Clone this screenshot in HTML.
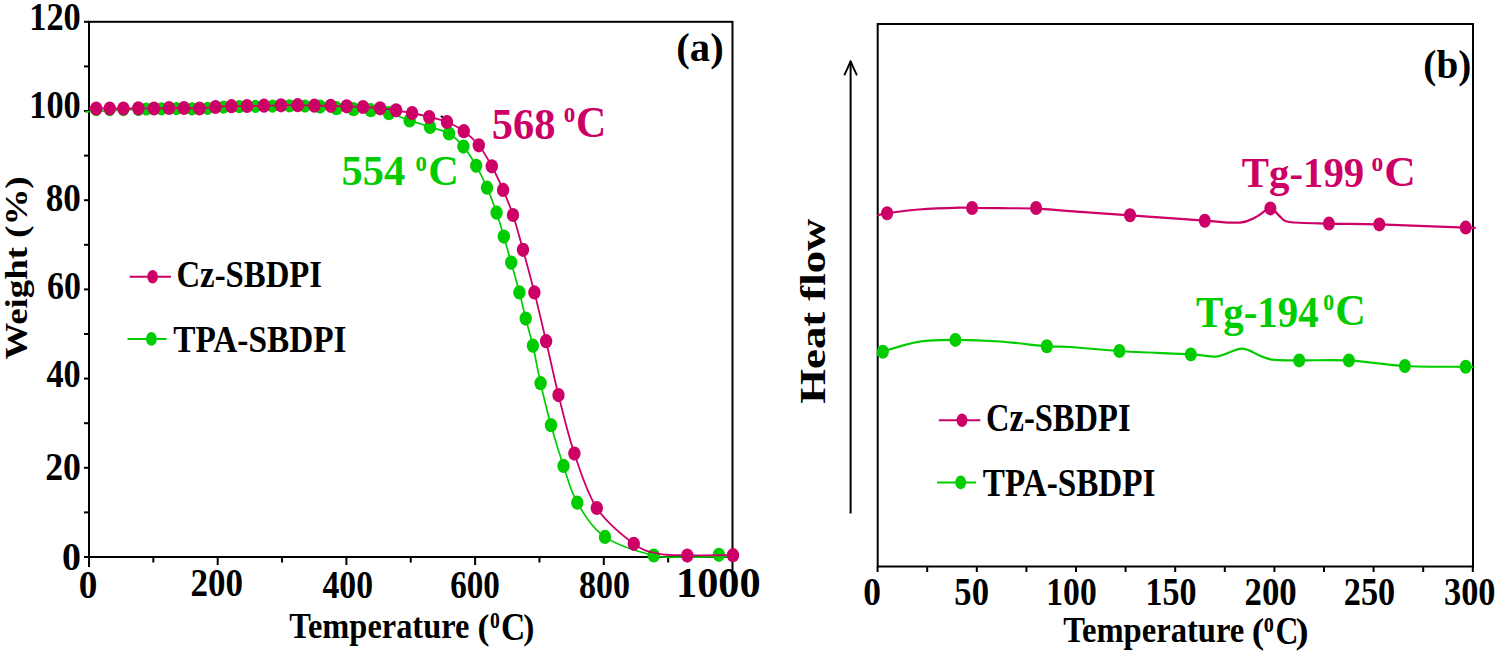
<!DOCTYPE html>
<html><head><meta charset="utf-8"><title>TGA and DSC curves</title>
<style>
html,body{margin:0;padding:0;background:#fff;width:1499px;height:656px;overflow:hidden}
svg{display:block}
text{font-family:"Liberation Serif",serif;font-weight:bold;font-size:100px}
</style></head><body>
<svg width="1499" height="656" viewBox="0 0 1499 656">
<rect width="1499" height="656" fill="#fff"/>
<rect x="89" y="21.8" width="643.5" height="535.2" fill="none" stroke="#000" stroke-width="2"/>
<line x1="84" y1="557.0" x2="89" y2="557.0" stroke="#000" stroke-width="2" stroke-linecap="butt"/>
<line x1="84" y1="512.4" x2="89" y2="512.4" stroke="#000" stroke-width="2" stroke-linecap="butt"/>
<line x1="84" y1="467.8" x2="89" y2="467.8" stroke="#000" stroke-width="2" stroke-linecap="butt"/>
<line x1="84" y1="423.2" x2="89" y2="423.2" stroke="#000" stroke-width="2" stroke-linecap="butt"/>
<line x1="84" y1="378.6" x2="89" y2="378.6" stroke="#000" stroke-width="2" stroke-linecap="butt"/>
<line x1="84" y1="334.0" x2="89" y2="334.0" stroke="#000" stroke-width="2" stroke-linecap="butt"/>
<line x1="84" y1="289.4" x2="89" y2="289.4" stroke="#000" stroke-width="2" stroke-linecap="butt"/>
<line x1="84" y1="244.8" x2="89" y2="244.8" stroke="#000" stroke-width="2" stroke-linecap="butt"/>
<line x1="84" y1="200.2" x2="89" y2="200.2" stroke="#000" stroke-width="2" stroke-linecap="butt"/>
<line x1="84" y1="155.59999999999997" x2="89" y2="155.59999999999997" stroke="#000" stroke-width="2" stroke-linecap="butt"/>
<line x1="84" y1="110.99999999999994" x2="89" y2="110.99999999999994" stroke="#000" stroke-width="2" stroke-linecap="butt"/>
<line x1="84" y1="66.39999999999992" x2="89" y2="66.39999999999992" stroke="#000" stroke-width="2" stroke-linecap="butt"/>
<line x1="84" y1="21.799999999999955" x2="89" y2="21.799999999999955" stroke="#000" stroke-width="2" stroke-linecap="butt"/>
<line x1="89.0" y1="557" x2="89.0" y2="567" stroke="#000" stroke-width="2" stroke-linecap="butt"/>
<line x1="153.35" y1="557" x2="153.35" y2="562.5" stroke="#000" stroke-width="2" stroke-linecap="butt"/>
<line x1="217.7" y1="557" x2="217.7" y2="565" stroke="#000" stroke-width="2" stroke-linecap="butt"/>
<line x1="282.05" y1="557" x2="282.05" y2="562.5" stroke="#000" stroke-width="2" stroke-linecap="butt"/>
<line x1="346.4" y1="557" x2="346.4" y2="565" stroke="#000" stroke-width="2" stroke-linecap="butt"/>
<line x1="410.75" y1="557" x2="410.75" y2="562.5" stroke="#000" stroke-width="2" stroke-linecap="butt"/>
<line x1="475.1" y1="557" x2="475.1" y2="565" stroke="#000" stroke-width="2" stroke-linecap="butt"/>
<line x1="539.45" y1="557" x2="539.45" y2="562.5" stroke="#000" stroke-width="2" stroke-linecap="butt"/>
<line x1="603.8" y1="557" x2="603.8" y2="565" stroke="#000" stroke-width="2" stroke-linecap="butt"/>
<line x1="668.15" y1="557" x2="668.15" y2="562.5" stroke="#000" stroke-width="2" stroke-linecap="butt"/>
<line x1="732.5" y1="557" x2="732.5" y2="570" stroke="#000" stroke-width="2" stroke-linecap="butt"/>
<path d="M85.00,111.80 C95.20,111.33 133.45,109.49 146.20,109.00 C158.95,108.51 156.45,108.92 161.50,108.85 C166.55,108.78 171.42,108.60 176.50,108.60 C181.58,108.60 186.83,108.90 192.00,108.86 C197.17,108.82 202.25,108.63 207.50,108.35 C212.75,108.07 218.20,107.48 223.50,107.20 C228.80,106.92 233.97,106.82 239.30,106.70 C244.63,106.57 249.97,106.55 255.50,106.45 C261.03,106.35 266.85,106.20 272.50,106.10 C278.15,106.00 283.98,105.86 289.40,105.85 C294.82,105.84 299.90,105.89 305.00,106.02 C310.10,106.14 314.75,106.24 320.00,106.60 C325.25,106.96 330.92,107.77 336.50,108.20 C342.08,108.63 347.80,108.87 353.50,109.20 C359.20,109.53 364.78,109.53 370.70,110.20 C376.62,110.87 382.52,111.50 389.00,113.20 C395.48,114.90 402.77,118.10 409.60,120.40 C416.43,122.70 423.43,124.82 430.00,127.00 C436.57,129.18 443.43,130.23 449.00,133.50 C454.57,136.77 458.87,141.22 463.40,146.60 C467.93,151.98 472.27,158.95 476.20,165.80 C480.13,172.65 483.60,179.88 487.00,187.70 C490.40,195.52 493.80,204.55 496.60,212.70 C499.40,220.85 501.37,228.28 503.80,236.60 C506.23,244.92 508.60,253.30 511.20,262.60 C513.80,271.90 516.98,283.07 519.40,292.40 C521.82,301.73 523.45,309.72 525.70,318.60 C527.95,327.48 530.42,334.93 532.90,345.70 C535.38,356.47 537.58,369.95 540.60,383.20 C543.62,396.45 547.18,411.42 551.00,425.20 C554.82,438.98 559.12,452.98 563.50,465.90 C567.88,478.82 570.38,490.87 577.30,502.70 C584.22,514.53 592.27,528.10 605.00,536.90 C617.73,545.70 640.20,552.15 653.70,555.50 C667.20,558.85 675.13,556.82 686.00,557.00 C696.87,557.18 711.07,556.60 718.90,556.60 C726.73,556.60 730.65,556.93 733.00,557.00" fill="none" stroke="#00cc00" stroke-width="1.7" stroke-linejoin="round"/>
<ellipse cx="96.2" cy="109.7" rx="5.6" ry="6.6" fill="#00cc00"/>
<ellipse cx="109.7" cy="109.7" rx="5.6" ry="6.6" fill="#00cc00"/>
<ellipse cx="123.4" cy="109.7" rx="5.6" ry="6.6" fill="#00cc00"/>
<ellipse cx="138.3" cy="109.5" rx="5.6" ry="6.6" fill="#00cc00"/>
<ellipse cx="146.2" cy="109.0" rx="5.6" ry="6.6" fill="#00cc00"/>
<ellipse cx="161.5" cy="108.8" rx="5.6" ry="6.6" fill="#00cc00"/>
<ellipse cx="176.5" cy="108.6" rx="5.6" ry="6.6" fill="#00cc00"/>
<ellipse cx="192.0" cy="108.9" rx="5.6" ry="6.6" fill="#00cc00"/>
<ellipse cx="207.5" cy="108.3" rx="5.6" ry="6.6" fill="#00cc00"/>
<ellipse cx="223.5" cy="107.2" rx="5.6" ry="6.6" fill="#00cc00"/>
<ellipse cx="239.3" cy="106.7" rx="5.6" ry="6.6" fill="#00cc00"/>
<ellipse cx="255.5" cy="106.4" rx="5.6" ry="6.6" fill="#00cc00"/>
<ellipse cx="272.5" cy="106.1" rx="5.6" ry="6.6" fill="#00cc00"/>
<ellipse cx="289.4" cy="105.8" rx="5.6" ry="6.6" fill="#00cc00"/>
<ellipse cx="305.0" cy="106.0" rx="5.6" ry="6.6" fill="#00cc00"/>
<ellipse cx="320.0" cy="106.6" rx="6.2" ry="7.1" fill="#00cc00"/>
<ellipse cx="336.5" cy="108.2" rx="6.2" ry="7.1" fill="#00cc00"/>
<ellipse cx="353.5" cy="109.2" rx="6.2" ry="7.1" fill="#00cc00"/>
<ellipse cx="370.7" cy="110.2" rx="6.2" ry="7.1" fill="#00cc00"/>
<ellipse cx="389.0" cy="113.2" rx="6.2" ry="7.1" fill="#00cc00"/>
<ellipse cx="409.6" cy="120.4" rx="6.2" ry="7.1" fill="#00cc00"/>
<ellipse cx="430.0" cy="127.0" rx="6.2" ry="7.1" fill="#00cc00"/>
<ellipse cx="449.0" cy="133.5" rx="6.2" ry="7.1" fill="#00cc00"/>
<ellipse cx="463.4" cy="146.6" rx="6.2" ry="7.1" fill="#00cc00"/>
<ellipse cx="476.2" cy="165.8" rx="6.2" ry="7.1" fill="#00cc00"/>
<ellipse cx="487.0" cy="187.7" rx="6.2" ry="7.1" fill="#00cc00"/>
<ellipse cx="496.6" cy="212.7" rx="6.2" ry="7.1" fill="#00cc00"/>
<ellipse cx="503.8" cy="236.6" rx="6.2" ry="7.1" fill="#00cc00"/>
<ellipse cx="511.2" cy="262.6" rx="6.2" ry="7.1" fill="#00cc00"/>
<ellipse cx="519.4" cy="292.4" rx="6.2" ry="7.1" fill="#00cc00"/>
<ellipse cx="525.7" cy="318.6" rx="6.2" ry="7.1" fill="#00cc00"/>
<ellipse cx="532.9" cy="345.7" rx="6.2" ry="7.1" fill="#00cc00"/>
<ellipse cx="540.6" cy="383.2" rx="6.2" ry="7.1" fill="#00cc00"/>
<ellipse cx="551.0" cy="425.2" rx="6.2" ry="7.1" fill="#00cc00"/>
<ellipse cx="563.5" cy="465.9" rx="6.2" ry="7.1" fill="#00cc00"/>
<ellipse cx="577.3" cy="502.7" rx="6.2" ry="7.1" fill="#00cc00"/>
<ellipse cx="605.0" cy="536.9" rx="6.2" ry="7.1" fill="#00cc00"/>
<ellipse cx="653.7" cy="555.5" rx="6.2" ry="7.1" fill="#00cc00"/>
<ellipse cx="718.9" cy="554.8" rx="6.2" ry="7.1" fill="#00cc00"/>
<path d="M89.00,108.50 C90.20,108.50 92.75,108.50 96.20,108.50 C99.65,108.50 105.17,108.50 109.70,108.50 C114.23,108.50 118.63,108.53 123.40,108.50 C128.17,108.47 133.20,108.30 138.30,108.30 C143.40,108.30 148.88,108.55 154.00,108.50 C159.12,108.45 164.00,108.08 169.00,108.00 C174.00,107.92 178.92,107.92 184.00,108.00 C189.08,108.08 194.25,108.67 199.50,108.50 C204.75,108.33 210.17,107.38 215.50,107.00 C220.83,106.62 226.25,106.37 231.50,106.20 C236.75,106.03 241.58,106.08 247.00,106.00 C252.42,105.92 258.33,105.82 264.00,105.70 C269.67,105.58 275.38,105.38 281.00,105.30 C286.62,105.22 292.13,105.13 297.70,105.20 C303.27,105.27 308.90,105.60 314.40,105.70 C319.90,105.80 325.32,105.70 330.70,105.80 C336.08,105.90 341.32,106.10 346.70,106.30 C352.08,106.50 357.43,106.67 363.00,107.00 C368.57,107.33 374.58,107.75 380.10,108.30 C385.62,108.85 390.77,109.52 396.10,110.30 C401.43,111.08 406.58,111.88 412.10,113.00 C417.62,114.12 423.38,115.50 429.20,117.00 C435.02,118.50 441.23,119.63 447.00,122.00 C452.77,124.37 458.50,127.32 463.80,131.20 C469.10,135.08 474.13,139.45 478.80,145.30 C483.47,151.15 487.75,158.87 491.80,166.30 C495.85,173.73 499.57,181.78 503.10,189.90 C506.63,198.02 509.68,205.02 513.00,215.00 C516.32,224.98 519.43,236.90 523.00,249.80 C526.57,262.70 530.55,277.17 534.40,292.40 C538.25,307.63 542.08,324.08 546.10,341.20 C550.12,358.32 553.78,376.37 558.50,395.10 C563.22,413.83 568.02,434.78 574.40,453.60 C580.78,472.42 586.90,492.97 596.80,508.00 C606.70,523.03 623.60,536.20 633.80,543.80 C644.00,551.40 649.08,551.68 658.00,553.60 C666.92,555.52 674.80,555.03 687.30,555.30 C699.80,555.57 725.38,555.22 733.00,555.20" fill="none" stroke="#cc0066" stroke-width="1.8" stroke-linejoin="round"/>
<ellipse cx="96.2" cy="108.5" rx="6.2" ry="7.1" fill="#cc0066"/>
<ellipse cx="109.7" cy="108.5" rx="6.2" ry="7.1" fill="#cc0066"/>
<ellipse cx="123.4" cy="108.5" rx="6.2" ry="7.1" fill="#cc0066"/>
<ellipse cx="138.3" cy="108.3" rx="6.2" ry="7.1" fill="#cc0066"/>
<ellipse cx="154.0" cy="108.5" rx="6.2" ry="7.1" fill="#cc0066"/>
<ellipse cx="169.0" cy="108.0" rx="6.2" ry="7.1" fill="#cc0066"/>
<ellipse cx="184.0" cy="108.0" rx="6.2" ry="7.1" fill="#cc0066"/>
<ellipse cx="199.5" cy="108.5" rx="6.2" ry="7.1" fill="#cc0066"/>
<ellipse cx="215.5" cy="107.0" rx="6.2" ry="7.1" fill="#cc0066"/>
<ellipse cx="231.5" cy="106.2" rx="6.2" ry="7.1" fill="#cc0066"/>
<ellipse cx="247.0" cy="106.0" rx="6.2" ry="7.1" fill="#cc0066"/>
<ellipse cx="264.0" cy="105.7" rx="6.2" ry="7.1" fill="#cc0066"/>
<ellipse cx="281.0" cy="105.3" rx="6.2" ry="7.1" fill="#cc0066"/>
<ellipse cx="297.7" cy="105.2" rx="6.2" ry="7.1" fill="#cc0066"/>
<ellipse cx="314.4" cy="105.7" rx="6.2" ry="7.1" fill="#cc0066"/>
<ellipse cx="330.7" cy="105.8" rx="6.2" ry="7.1" fill="#cc0066"/>
<ellipse cx="346.7" cy="106.3" rx="6.2" ry="7.1" fill="#cc0066"/>
<ellipse cx="363.0" cy="107.0" rx="6.2" ry="7.1" fill="#cc0066"/>
<ellipse cx="380.1" cy="108.3" rx="6.2" ry="7.1" fill="#cc0066"/>
<ellipse cx="396.1" cy="110.3" rx="6.2" ry="7.1" fill="#cc0066"/>
<ellipse cx="412.1" cy="113.0" rx="6.2" ry="7.1" fill="#cc0066"/>
<ellipse cx="429.2" cy="117.0" rx="6.2" ry="7.1" fill="#cc0066"/>
<ellipse cx="447.0" cy="122.0" rx="6.2" ry="7.1" fill="#cc0066"/>
<ellipse cx="463.8" cy="131.2" rx="6.2" ry="7.1" fill="#cc0066"/>
<ellipse cx="478.8" cy="145.3" rx="6.2" ry="7.1" fill="#cc0066"/>
<ellipse cx="491.8" cy="166.3" rx="6.2" ry="7.1" fill="#cc0066"/>
<ellipse cx="503.1" cy="189.9" rx="6.2" ry="7.1" fill="#cc0066"/>
<ellipse cx="513.0" cy="215.0" rx="6.2" ry="7.1" fill="#cc0066"/>
<ellipse cx="523.0" cy="249.8" rx="6.2" ry="7.1" fill="#cc0066"/>
<ellipse cx="534.4" cy="292.4" rx="6.2" ry="7.1" fill="#cc0066"/>
<ellipse cx="546.1" cy="341.2" rx="6.2" ry="7.1" fill="#cc0066"/>
<ellipse cx="558.5" cy="395.1" rx="6.2" ry="7.1" fill="#cc0066"/>
<ellipse cx="574.4" cy="453.6" rx="6.2" ry="7.1" fill="#cc0066"/>
<ellipse cx="596.8" cy="508.0" rx="6.2" ry="7.1" fill="#cc0066"/>
<ellipse cx="633.8" cy="543.8" rx="6.2" ry="7.1" fill="#cc0066"/>
<ellipse cx="687.3" cy="555.6" rx="6.2" ry="7.1" fill="#cc0066"/>
<ellipse cx="733.0" cy="555.2" rx="6.2" ry="7.1" fill="#cc0066"/>
<circle cx="441.8" cy="116.6" r="1.2" fill="#000"/>
<line x1="129.7" y1="276.7" x2="171" y2="276.7" stroke="#cc0066" stroke-width="2" stroke-linecap="butt"/>
<ellipse cx="152.6" cy="276.7" rx="5.4" ry="6.8" fill="#cc0066"/>
<line x1="127.5" y1="338.9" x2="166.6" y2="338.9" stroke="#00cc00" stroke-width="2" stroke-linecap="butt"/>
<ellipse cx="151.4" cy="338.9" rx="5.4" ry="6.8" fill="#00cc00"/>
<rect x="877.7" y="24" width="595.3" height="542.5" fill="none" stroke="#000" stroke-width="2"/>
<line x1="877.6" y1="566.5" x2="877.6" y2="572.0" stroke="#000" stroke-width="2" stroke-linecap="butt"/>
<line x1="927.2" y1="566.5" x2="927.2" y2="572.0" stroke="#000" stroke-width="2" stroke-linecap="butt"/>
<line x1="976.8" y1="566.5" x2="976.8" y2="572.0" stroke="#000" stroke-width="2" stroke-linecap="butt"/>
<line x1="1026.4" y1="566.5" x2="1026.4" y2="572.0" stroke="#000" stroke-width="2" stroke-linecap="butt"/>
<line x1="1076.0" y1="566.5" x2="1076.0" y2="572.0" stroke="#000" stroke-width="2" stroke-linecap="butt"/>
<line x1="1125.6" y1="566.5" x2="1125.6" y2="572.0" stroke="#000" stroke-width="2" stroke-linecap="butt"/>
<line x1="1175.2" y1="566.5" x2="1175.2" y2="572.0" stroke="#000" stroke-width="2" stroke-linecap="butt"/>
<line x1="1224.8" y1="566.5" x2="1224.8" y2="572.0" stroke="#000" stroke-width="2" stroke-linecap="butt"/>
<line x1="1274.4" y1="566.5" x2="1274.4" y2="572.0" stroke="#000" stroke-width="2" stroke-linecap="butt"/>
<line x1="1324.0" y1="566.5" x2="1324.0" y2="572.0" stroke="#000" stroke-width="2" stroke-linecap="butt"/>
<line x1="1373.6" y1="566.5" x2="1373.6" y2="572.0" stroke="#000" stroke-width="2" stroke-linecap="butt"/>
<line x1="1423.1999999999998" y1="566.5" x2="1423.1999999999998" y2="572.0" stroke="#000" stroke-width="2" stroke-linecap="butt"/>
<line x1="1472.8" y1="566.5" x2="1472.8" y2="572.0" stroke="#000" stroke-width="2" stroke-linecap="butt"/>
<path d="M877.30,215.30 C878.93,214.97 880.15,214.27 887.10,213.30 C894.05,212.33 906.85,210.45 919.00,209.50 C931.15,208.55 951.15,207.85 960.00,207.60 C968.85,207.35 965.43,207.90 972.10,208.00 C978.77,208.10 989.33,208.10 1000.00,208.20 C1010.67,208.30 1024.43,208.12 1036.10,208.60 C1047.77,209.08 1054.35,209.98 1070.00,211.10 C1085.65,212.22 1107.53,213.70 1130.00,215.30 C1152.47,216.90 1186.47,219.48 1204.80,220.70 C1223.13,221.92 1231.47,223.22 1240.00,222.60 C1248.53,221.98 1250.93,219.37 1256.00,217.00 C1261.07,214.63 1266.40,208.48 1270.40,208.40 C1274.40,208.32 1276.80,214.23 1280.00,216.50 C1283.20,218.77 1281.45,220.82 1289.60,222.00 C1297.75,223.18 1313.95,223.20 1328.90,223.60 C1343.85,224.00 1356.50,223.73 1379.30,224.40 C1402.10,225.07 1450.08,227.03 1465.70,227.60 C1481.32,228.17 1471.78,227.77 1473.00,227.80" fill="none" stroke="#cc0066" stroke-width="2.2" stroke-linejoin="round"/>
<path d="M877.00,355.70 C877.98,355.03 875.83,354.03 882.90,351.70 C889.97,349.37 907.32,343.67 919.40,341.70 C931.48,339.73 941.97,339.93 955.40,339.90 C968.83,339.87 984.77,340.43 1000.00,341.50 C1015.23,342.57 1035.13,345.38 1046.80,346.30 C1058.47,347.22 1057.90,346.22 1070.00,347.00 C1082.10,347.78 1099.27,349.77 1119.40,351.00 C1139.53,352.23 1174.47,353.50 1190.80,354.40 C1207.13,355.30 1208.95,357.35 1217.40,356.40 C1225.85,355.45 1234.40,348.82 1241.50,348.70 C1248.60,348.58 1254.92,353.88 1260.00,355.70 C1265.08,357.52 1265.47,358.82 1272.00,359.60 C1278.53,360.38 1286.38,360.27 1299.20,360.40 C1312.02,360.53 1331.28,359.47 1348.90,360.40 C1366.52,361.33 1385.43,364.93 1404.90,366.00 C1424.37,367.07 1454.35,366.63 1465.70,366.80 C1477.05,366.97 1471.78,366.97 1473.00,367.00" fill="none" stroke="#00cc00" stroke-width="2.2" stroke-linejoin="round"/>
<ellipse cx="887.1" cy="213.3" rx="6.0" ry="7.0" fill="#cc0066"/>
<ellipse cx="972.1" cy="208.0" rx="6.0" ry="7.0" fill="#cc0066"/>
<ellipse cx="1036.1" cy="208.0" rx="6.0" ry="7.0" fill="#cc0066"/>
<ellipse cx="1130.0" cy="215.3" rx="6.0" ry="7.0" fill="#cc0066"/>
<ellipse cx="1204.8" cy="220.7" rx="6.0" ry="7.0" fill="#cc0066"/>
<ellipse cx="1270.4" cy="208.4" rx="6.0" ry="7.0" fill="#cc0066"/>
<ellipse cx="1328.9" cy="223.6" rx="6.0" ry="7.0" fill="#cc0066"/>
<ellipse cx="1379.3" cy="224.4" rx="6.0" ry="7.0" fill="#cc0066"/>
<ellipse cx="1465.7" cy="227.6" rx="6.0" ry="7.0" fill="#cc0066"/>
<ellipse cx="882.9" cy="351.7" rx="6.0" ry="7.0" fill="#00cc00"/>
<ellipse cx="955.4" cy="339.9" rx="6.0" ry="7.0" fill="#00cc00"/>
<ellipse cx="1046.8" cy="346.3" rx="6.0" ry="7.0" fill="#00cc00"/>
<ellipse cx="1119.4" cy="351.0" rx="6.0" ry="7.0" fill="#00cc00"/>
<ellipse cx="1190.8" cy="354.4" rx="6.0" ry="7.0" fill="#00cc00"/>
<ellipse cx="1299.2" cy="360.4" rx="6.0" ry="7.0" fill="#00cc00"/>
<ellipse cx="1348.9" cy="360.4" rx="6.0" ry="7.0" fill="#00cc00"/>
<ellipse cx="1404.9" cy="366.0" rx="6.0" ry="7.0" fill="#00cc00"/>
<ellipse cx="1465.7" cy="366.8" rx="6.0" ry="7.0" fill="#00cc00"/>
<line x1="850.6" y1="513.5" x2="850.6" y2="62" stroke="#000" stroke-width="2" stroke-linecap="butt"/>
<path d="M844.6,74.6 Q848.5,66.5 850.6,61.2 Q852.7,66.5 856.6,74.6" fill="none" stroke="#000" stroke-width="1.9" stroke-linejoin="round" stroke-linecap="round"/>
<line x1="938.8" y1="420.2" x2="980.3" y2="420.2" stroke="#cc0066" stroke-width="2" stroke-linecap="butt"/>
<ellipse cx="962.0" cy="420.2" rx="5.4" ry="6.8" fill="#cc0066"/>
<line x1="937" y1="482.4" x2="976.1" y2="482.4" stroke="#00cc00" stroke-width="2" stroke-linecap="butt"/>
<ellipse cx="960.7" cy="482.4" rx="5.4" ry="6.8" fill="#00cc00"/>
<text transform="matrix(0.34402 0.00000 0.00000 0.39502 29.245 29.914)" fill="#000">120</text>
<text transform="matrix(0.34395 0.00000 0.00000 0.39291 29.243 117.728)" fill="#000">100</text>
<text transform="matrix(0.35140 0.00000 0.00000 0.40074 45.712 210.840)" fill="#000">80</text>
<text transform="matrix(0.33940 0.00000 0.00000 0.40942 46.919 299.148)" fill="#000">60</text>
<text transform="matrix(0.34323 0.00000 0.00000 0.39244 46.460 386.952)" fill="#000">40</text>
<text transform="matrix(0.35760 0.00000 0.00000 0.39725 45.222 480.086)" fill="#000">20</text>
<text transform="matrix(0.37880 0.00000 0.00000 0.40551 62.038 569.759)" fill="#000">0</text>
<text transform="matrix(0.37256 0.00000 0.00000 0.39570 78.859 597.571)" fill="#000">0</text>
<text transform="matrix(0.35013 0.00000 0.00000 0.39579 190.376 595.630)" fill="#000">200</text>
<text transform="matrix(0.33692 0.00000 0.00000 0.39003 322.487 597.835)" fill="#000">400</text>
<text transform="matrix(0.33110 0.00000 0.00000 0.39555 450.193 597.610)" fill="#000">600</text>
<text transform="matrix(0.34041 0.00000 0.00000 0.39562 578.920 597.532)" fill="#000">800</text>
<text transform="matrix(0.42344 0.00000 0.00000 0.42569 676.021 597.298)" fill="#000">1000</text>
<text transform="matrix(0.32419 0.00000 0.00000 0.35884 289.342 637.784)" fill="#000">Temperature</text>
<text transform="matrix(0.35821 0.00000 0.00000 0.36174 477.556 639.100)" fill="#000">(</text>
<text transform="matrix(0.19702 0.00000 0.00000 0.30777 489.957 627.673)" fill="#000">o</text>
<text transform="matrix(0.33582 0.00000 0.00000 0.39833 500.882 639.820)" fill="#000">C</text>
<text transform="matrix(0.33305 0.00000 0.00000 0.36266 523.220 639.110)" fill="#000">)</text>
<text transform="matrix(0.00000 -0.36857 0.31806 0.00000 27.303 359.540)" fill="#000">Weight (%)</text>
<text transform="matrix(0.40652 0.00000 0.00000 0.39999 676.325 61.480)" fill="#000">(a)</text>
<text transform="matrix(0.42446 0.00000 0.00000 0.43375 491.842 139.146)" fill="#cc0066">568</text>
<text transform="matrix(0.23036 0.00000 0.00000 0.29438 563.791 122.143)" fill="#cc0066">o</text>
<text transform="matrix(0.41866 0.00000 0.00000 0.43425 576.110 137.120)" fill="#cc0066">C</text>
<text transform="matrix(0.42493 0.00000 0.00000 0.41415 341.512 185.016)" fill="#00cc00">554</text>
<text transform="matrix(0.22848 0.00000 0.00000 0.29660 415.473 171.157)" fill="#00cc00">o</text>
<text transform="matrix(0.42290 0.00000 0.00000 0.42519 428.252 185.318)" fill="#00cc00">C</text>
<text transform="matrix(0.32780 0.00000 0.00000 0.37639 176.430 286.702)" fill="#000">Cz-SBDPI</text>
<text transform="matrix(0.33317 0.00000 0.00000 0.37221 173.170 351.506)" fill="#000">TPA-SBDPI</text>
<text transform="matrix(0.35494 0.00000 0.00000 0.39572 863.153 604.794)" fill="#000">0</text>
<text transform="matrix(0.34686 0.00000 0.00000 0.39876 954.347 604.746)" fill="#000">50</text>
<text transform="matrix(0.33582 0.00000 0.00000 0.39452 1046.302 605.174)" fill="#000">100</text>
<text transform="matrix(0.34109 0.00000 0.00000 0.39746 1145.477 605.178)" fill="#000">150</text>
<text transform="matrix(0.34805 0.00000 0.00000 0.39895 1244.546 605.057)" fill="#000">200</text>
<text transform="matrix(0.34355 0.00000 0.00000 0.39436 1343.724 605.059)" fill="#000">250</text>
<text transform="matrix(0.34347 0.00000 0.00000 0.39380 1444.003 604.758)" fill="#000">300</text>
<text transform="matrix(0.32613 0.00000 0.00000 0.36465 1063.209 642.062)" fill="#000">Temperature</text>
<text transform="matrix(0.37537 0.00000 0.00000 0.35781 1251.721 643.267)" fill="#000">(</text>
<text transform="matrix(0.20284 0.00000 0.00000 0.29612 1263.706 632.229)" fill="#000">o</text>
<text transform="matrix(0.31712 0.00000 0.00000 0.39908 1275.426 644.259)" fill="#000">C</text>
<text transform="matrix(0.39589 0.00000 0.00000 0.35733 1295.422 643.264)" fill="#000">)</text>
<text transform="matrix(0.00000 -0.44767 0.36533 0.00000 824.633 403.775)" fill="#000">Heat flow</text>
<text transform="matrix(0.39198 0.00000 0.00000 0.39271 1423.351 77.737)" fill="#000">(b)</text>
<text transform="matrix(0.40863 0.00000 0.00000 0.42392 1241.707 186.597)" fill="#cc0066">Tg-199</text>
<text transform="matrix(0.23576 0.00000 0.00000 0.27524 1371.548 170.640)" fill="#cc0066">o</text>
<text transform="matrix(0.43598 0.00000 0.00000 0.42863 1384.128 185.671)" fill="#cc0066">C</text>
<text transform="matrix(0.40889 0.00000 0.00000 0.43806 1196.046 326.644)" fill="#00cc00">Tg-194</text>
<text transform="matrix(0.21803 0.00000 0.00000 0.31042 1323.133 309.781)" fill="#00cc00">o</text>
<text transform="matrix(0.42162 0.00000 0.00000 0.43598 1335.148 325.092)" fill="#00cc00">C</text>
<text transform="matrix(0.32534 0.00000 0.00000 0.39307 986.022 430.671)" fill="#000">Cz-SBDPI</text>
<text transform="matrix(0.33192 0.00000 0.00000 0.39212 982.799 495.796)" fill="#000">TPA-SBDPI</text>
</svg>
</body></html>
